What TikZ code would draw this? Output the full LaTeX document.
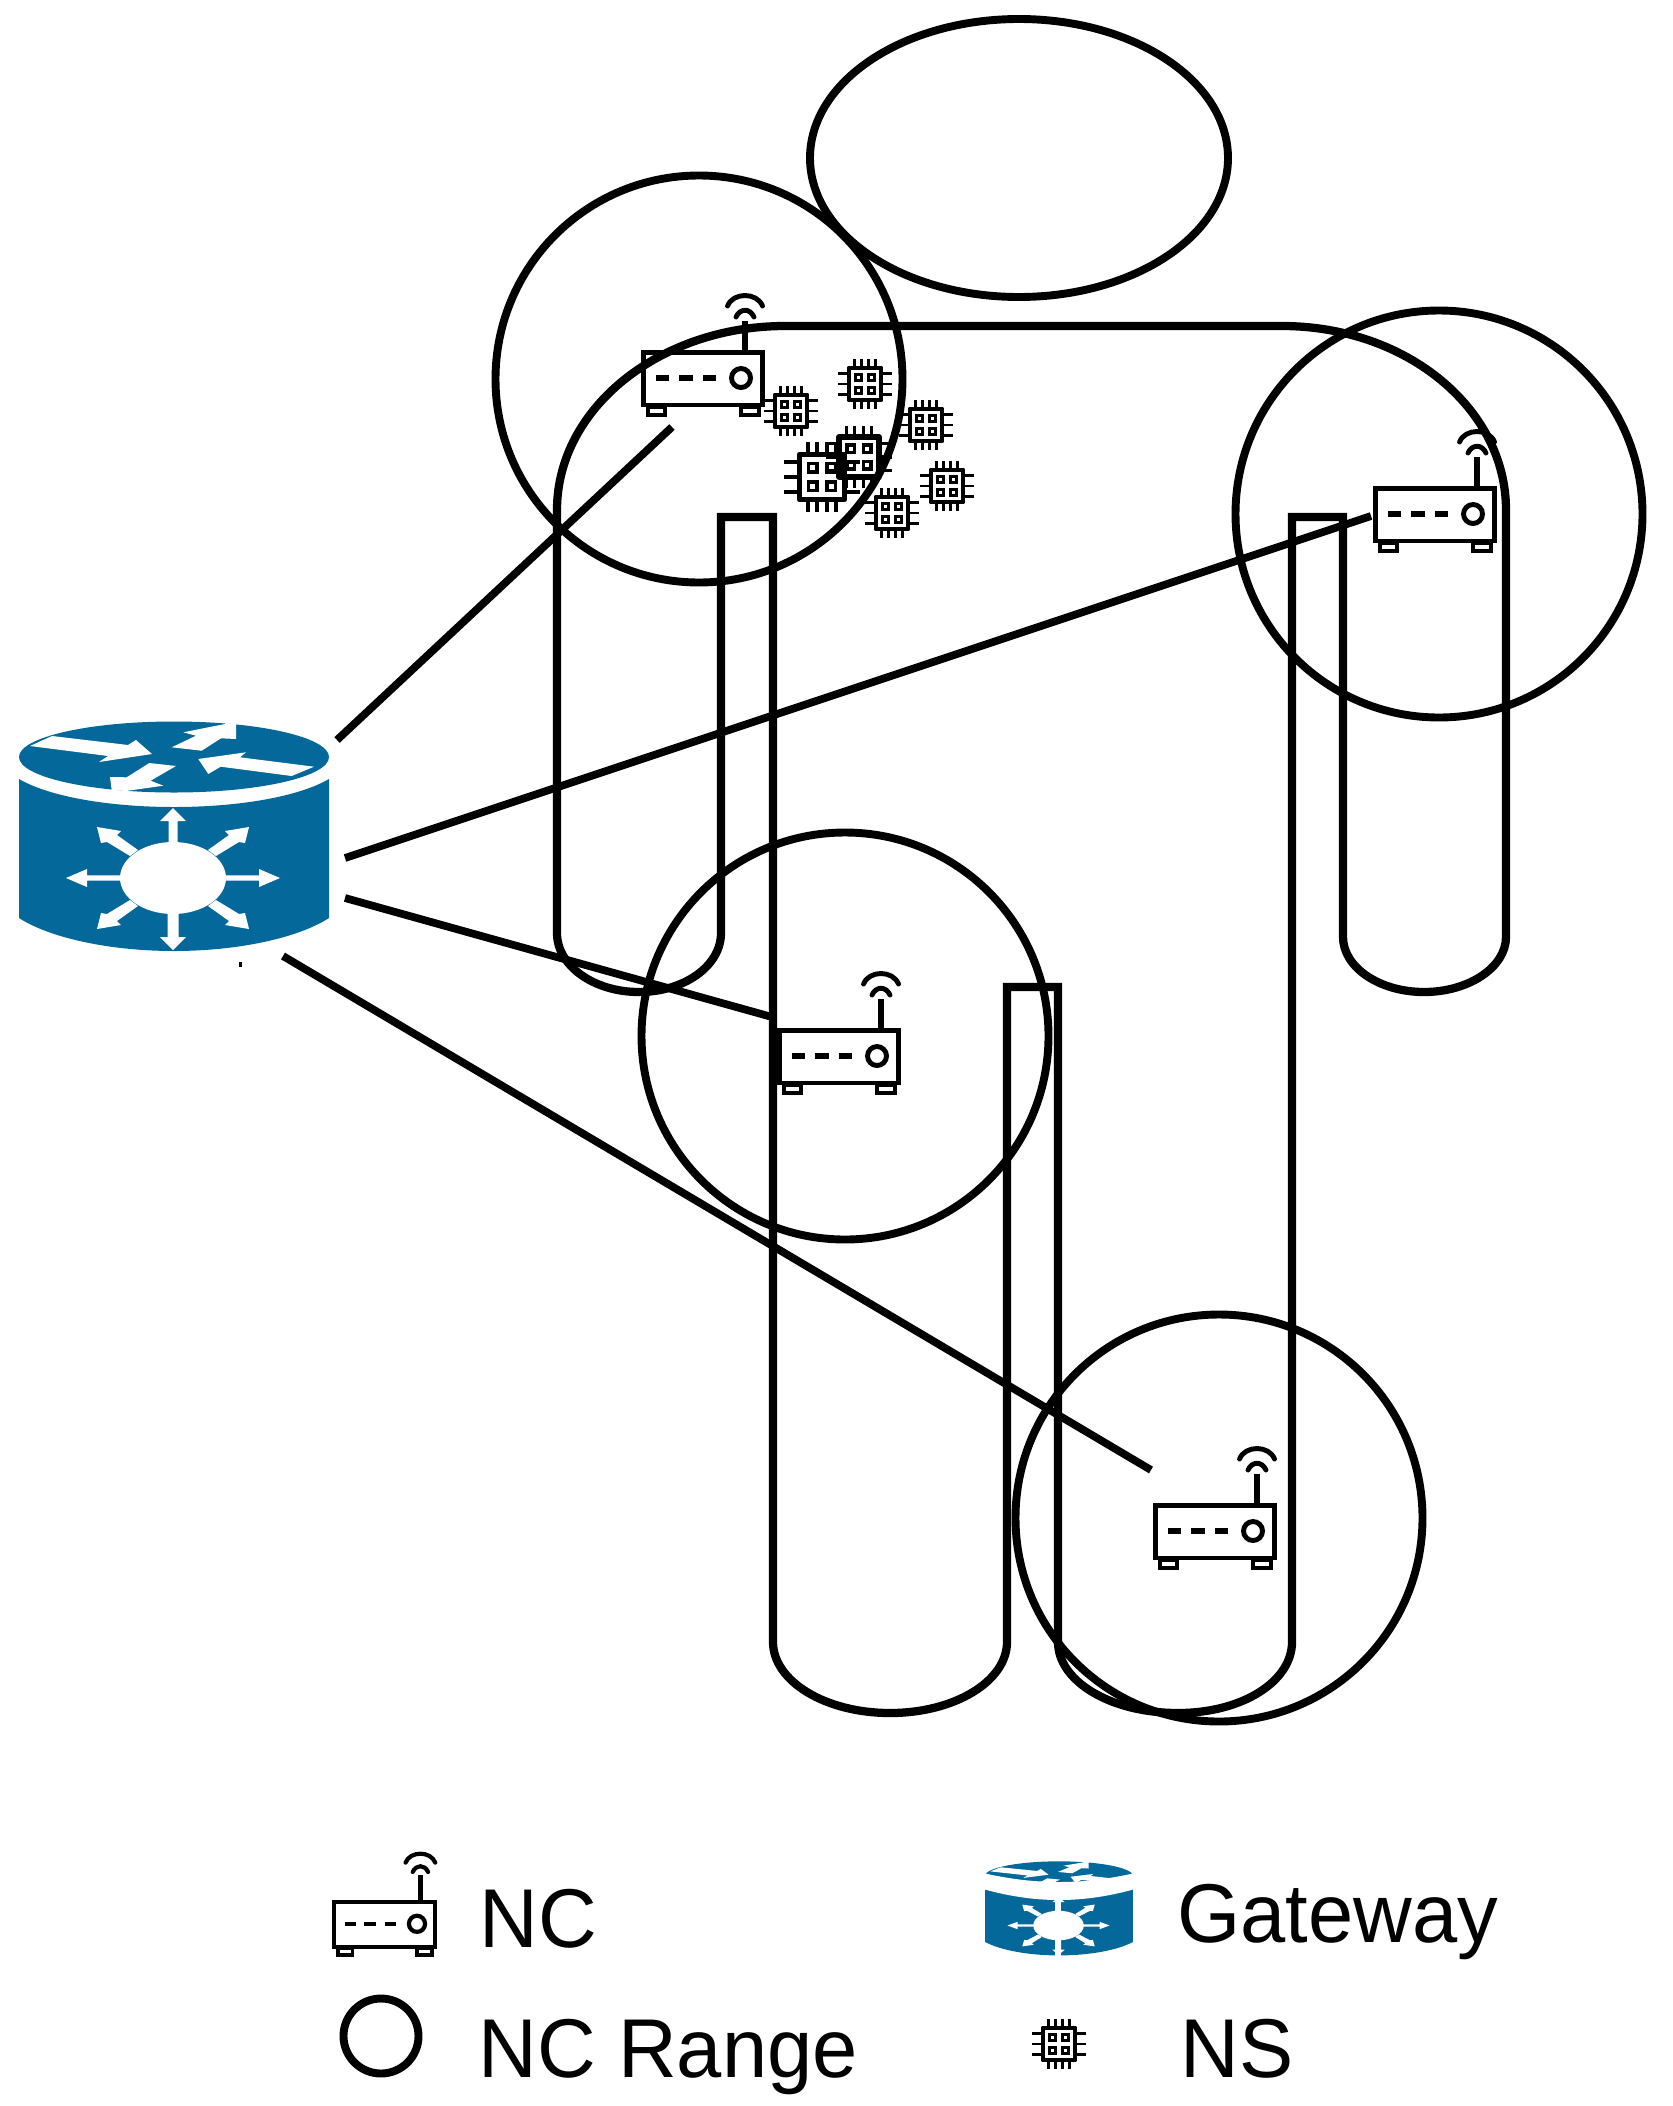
\documentclass[tikz,border=0pt]{standalone}
\usepackage{fontspec}
\setmainfont{Liberation Sans}
\definecolor{gwblue}{HTML}{05689B}
\tikzset{
  outline/.style={draw=black,line width=4.7pt,miter limit=10},
  rangering/.style={draw=black,line width=4.5pt},
  uplink/.style={draw=black,line width=4.4pt},
  lbl/.style={inner sep=0pt,anchor=base west,font=\fontsize{47.5}{50}\selectfont,xscale=.974,transform shape},
}
% router icon: origin = outer top-left of the box
\newcommand{\routericon}[3]{%
  \begin{scope}[shift={(#1,#2)},scale=#3]
    \draw[line width=#3*2.8pt,miter limit=10] (2.4,2.4) rectangle (121.6,55);
    \draw[line width=#3*2.5pt] (7,57) rectangle (24,65);
    \draw[line width=#3*2.5pt] (100,57) rectangle (118,65);
    \draw[line width=#3*2.8pt] (100,28) circle [radius=9.5];
    \draw[line width=#3*3.1pt] (15,28) -- (28,28) (38,28) -- (52,28) (62,28) -- (75,28);
    \draw[line width=#3*2.9pt] (104,2) -- (104,-29);
    \draw[line width=#3*2.8pt,line cap=round] (86.5,-44) .. controls (92,-58) and (116,-58) .. (121.5,-44);
    \draw[line width=#3*2.8pt,line cap=round] (95,-33) .. controls (99,-42) and (109,-42) .. (113,-33);
  \end{scope}}
% chip icon: origin = centre
\newcommand{\chipicon}[3]{%
  \begin{scope}[shift={(#1,#2)},scale=#3]
    \draw[line width=#3*2.4pt,line join=round] (-16.2,-16.2) rectangle (16.2,16.2);
    \foreach \px in {-6.7,6.7} \foreach \py in {-6.7,6.7}
      \draw[line width=#3*1.6pt] (\px-3,\py-3) rectangle (\px+3,\py+3);
    \foreach \py in {-10.7,0,10.7} {
      \draw[line width=#3*1.5pt] (-27,\py) -- (-16,\py);
      \draw[line width=#3*1.5pt] (16,\py) -- (27,\py);
    }
    \foreach \px in {-10.3,-3.4,3.4,10.3} {
      \draw[line width=#3*1.5pt] (\px,-25) -- (\px,-16);
      \draw[line width=#3*1.5pt] (\px,16) -- (\px,25);
    }
  \end{scope}}
% gateway icon: drawn at its own place, then moved and scaled
\newcommand{\gatewayicon}[4]{%
  \begin{scope}[shift={(#1,#2)},xscale=#3,yscale=#4]
    \fill[gwblue] (174,757) ellipse [x radius=155,y radius=35.5];
    \fill[gwblue] (19,779) .. controls (50,797) and (110,807) .. (174,807)
        .. controls (238,807) and (298,797) .. (329,779)
        -- (329,918) .. controls (298,938) and (238,951) .. (174,951)
        .. controls (110,951) and (50,938) .. (19,918) -- cycle;
    % arrows on the top face
    \fill[white] (52,736) -- (128,745) -- (136,740) -- (152,754) -- (99,762) -- (108,756) -- (30,746) -- cycle;
    \fill[white] (149.3,763) -- (176,766) -- (150.7,780.7) -- (163.3,785.7) -- (126,791) -- (111.7,790) -- (110,777) -- (126.7,777.3) -- cycle;
    \fill[white] (171.7,747.3) -- (201.7,750.7) -- (221,738.3) -- (236,739) -- (236,720) -- (225,720) -- (225,724) -- (183.3,732.3) -- (196,735.7) -- cycle;
    \fill[white] (198.3,759) -- (246,752.3) -- (240,757.3) -- (314,766.7) -- (291.7,776) -- (220.7,766.7) -- (208.3,774) -- cycle;
    % arrows on the side
    \begin{scope}[shift={(173,878)}]
      \fill[white] (0,0) ellipse [x radius=53,y radius=36];
      \fill[white] (-4.5,-30) -- (-4.5,-57) -- (-13,-57) -- (0,-70) -- (13,-57) -- (4.5,-57) -- (4.5,-30) -- cycle;
      \fill[white] (-5.5,30) -- (-5.5,59) -- (-13,59) -- (0,72) -- (13,59) -- (5.5,59) -- (5.5,30) -- cycle;
      \fill[white] (-50,-2.7) -- (-86,-2.7) -- (-86,-9) -- (-107,0) -- (-86,9) -- (-86,2.7) -- (-50,2.7) -- cycle;
      \fill[white] (50,-2.7) -- (86,-2.7) -- (86,-9) -- (107,0) -- (86,9) -- (86,2.7) -- (50,2.7) -- cycle;
      \foreach \sx in {-1,1} \foreach \sy in {-1,1}
        \fill[white,xscale=\sx,yscale=\sy] (-43,-22) -- (-66,-36) -- (-72,-35) -- (-76,-51) -- (-52,-47) -- (-56,-43) -- (-35,-28) -- cycle;
    \end{scope}
  \end{scope}}
\begin{document}
\begin{tikzpicture}[x=0.02cm,y=-0.02cm]
  \useasboundingbox (0,0) rectangle (1673,2106);

  % person outline
  \draw[outline]
    (557,510) .. controls (557,408) and (660,326) .. (785,326)
    -- (1282,326)
    .. controls (1406,326) and (1506,408) .. (1506,510)
    -- (1506,937)
    .. controls (1506,967) and (1469,992) .. (1424,992)
    .. controls (1379,992) and (1343,967) .. (1343,937)
    -- (1343,517) -- (1292,517) -- (1292,1642)
    .. controls (1292,1681) and (1243,1713) .. (1178,1713)
    .. controls (1110,1713) and (1058,1681) .. (1058,1642)
    -- (1058,987) -- (1007,987) -- (1007,1642)
    .. controls (1007,1681) and (955,1713) .. (890,1713)
    .. controls (825,1713) and (773,1681) .. (773,1642)
    -- (773,517) -- (721,517) -- (721,933)
    .. controls (721,966) and (684,992) .. (639,992)
    .. controls (594,992) and (557,966) .. (557,933)
    -- cycle;
  \draw[rangering] (1019,158) ellipse [x radius=209,y radius=139];

  % NC ranges
  \draw[rangering] (699,379) circle [radius=203.5];
  \draw[rangering] (1439,514) circle [radius=203.5];
  \draw[rangering] (845,1036) circle [radius=203.5];
  \draw[rangering] (1219,1518) circle [radius=203.5];

  % NC icons
  \routericon{641}{350}{1}
  \routericon{1373}{486}{1}
  \routericon{777}{1028}{1}
  \routericon{1153}{1503}{1}

  % NS icons
  \chipicon{791}{411}{1}
  \chipicon{865}{384}{1}
  \chipicon{926}{425}{1}
  \chipicon{859}{457}{1.23}
  \chipicon{822}{477}{1.39}
  \chipicon{947}{486}{1}
  \chipicon{892}{513}{1}

  % gateway
  \gatewayicon{0}{0}{1}{1}
  \fill (238.5,962) rectangle (242,967);

  % uplinks
  \coordinate (gwa) at (337,740);
  \coordinate (gwb) at (345,858);
  \coordinate (gwc) at (345,898);
  \coordinate (gwd) at (283,956);
  \coordinate (nca) at (672,427);
  \coordinate (ncb) at (1371,516);
  \coordinate (ncc) at (772,1017);
  \coordinate (ncd) at (1151,1470);
  \draw[uplink] (gwa) -- (nca);
  \draw[uplink] (gwb) -- (ncb);
  \draw[uplink] (gwc) -- (ncc);
  \draw[uplink] (gwd) -- (ncd);

  % legend
  \routericon{332}{1900}{0.85}
  \draw[rangering] (381,2036) circle [radius=37.5];
  \gatewayicon{976}{1565.5}{0.477}{0.41}
  \fill[white] (983,1873) .. controls (1005,1878) and (1030,1882) .. (1059,1882)
     .. controls (1088,1882) and (1113,1878) .. (1135,1873)
     -- (1135,1889) .. controls (1110,1896) and (1085,1900) .. (1059,1900)
     .. controls (1033,1900) and (1008,1896) .. (983,1889) -- cycle;
  \fill[white] (1055,1899) rectangle (1060.7,1957);
  \chipicon{1059}{2044}{1}
  \node[lbl] (lnc) at (479,1947) {NC};
  \node[lbl] (lrange) at (478,2077) {NC Range};
  \node[lbl] (lgw) at (1177,1942) {Gateway};
  \node[lbl] (lns) at (1180,2077) {NS};
\end{tikzpicture}
\end{document}
